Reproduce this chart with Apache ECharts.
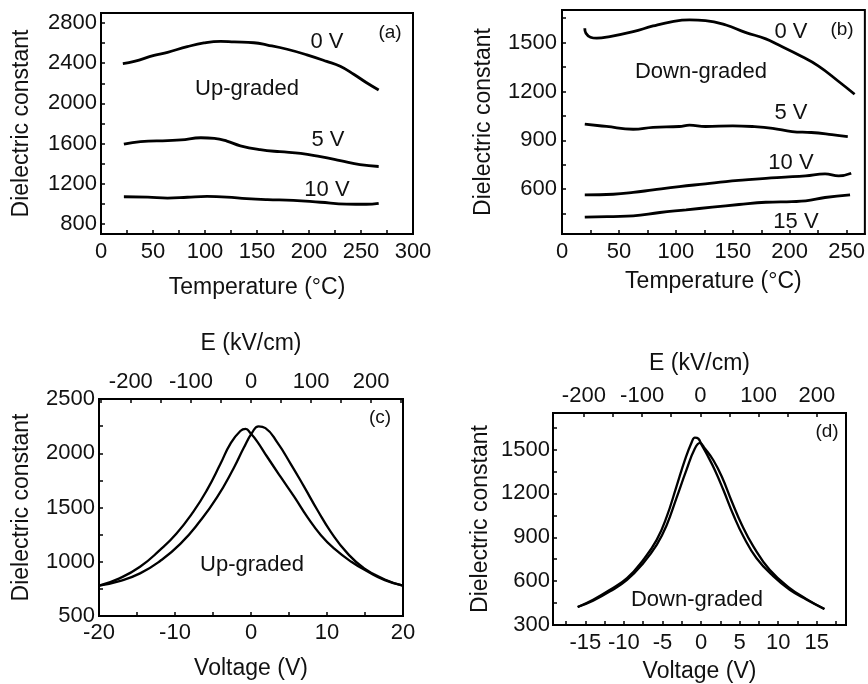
<!DOCTYPE html>
<html>
<head>
<meta charset="utf-8">
<script src="https://cdn.jsdelivr.net/npm/echarts@6/dist/echarts.min.js"></script>
<style>html,body{margin:0;padding:0;background:#fff;}#chart{width:868px;height:684px;}</style>
</head>
<body>
<div id="chart"></div>
<script>
// Panel (a): Up-graded, dielectric constant vs temperature
const aT0 = [21,32,51,64,83,99,115,128,147,160,179,198,217,230,243,255,267];
const aEps0 = [2395,2418,2478,2509,2565,2602,2618,2612,2604,2581,2539,2483,2418,2369,2290,2208,2133];
const aT5 = [22,38,64,77,96,109,121,134,153,172,192,211,230,249,267];
const aEps5 = [1594,1620,1630,1636,1658,1652,1625,1578,1540,1519,1503,1470,1431,1390,1372];
const aT10 = [22,45,64,83,102,121,140,160,185,211,236,255,267];
const aEps10 = [1071,1068,1058,1066,1074,1068,1052,1042,1035,1016,998,996,1006];
// Panel (b): Down-graded
const bT0 = [20,21,25,30.5,42,62.5,80,97,112,126,144,161,179,190,208,225,243,257];
const bEps0 = [1588,1557,1533,1527,1537,1567,1602,1629,1639,1635,1608,1563,1523,1486,1424,1357,1261,1183];
const bT5 = [20,39,62.5,80,103,112,126,150,167,185,202,219,237,251];
const bEps5 = [999,985,968,980,985,993,985,989,985,974,954,948,935,923];
const bT10 = [20,45,62.5,80,103,126,144,161,179,196,214,231,243,254];
const bEps10 = [565,569,580,596,616,633,647,657,667,674,682,694,682,698];
const bT15 = [20,45,62.5,86,109,132,155.5,179,202,214,231,253];
const bEps15 = [428,432,436,457,473,490,506,520,524,528,549,565];
// Panel (c): Up-graded, C-V butterfly
const cVL = [-20,-17.3,-14.6,-12.0,-9.8,-7.6,-5.8,-4.0,-2.7,-1.4,-0.7,-0.07,0.8,2.1,3.9,5.7,7.4,9.2,11.0,13.2,15.4,17.6,20];
const cEpsL = [779,847,954,1107,1261,1460,1660,1905,2089,2205,2224,2185,2110,1970,1782,1598,1414,1245,1118,1000,908,831,779];
const cVR = [-20,-17.3,-14.6,-12.0,-9.3,-6.7,-4.5,-2.3,-0.95,0.15,1.0,1.9,3.5,5.2,7.0,8.75,10.5,12.7,14.9,17.6,20];
const cEpsR = [779,822,893,1005,1165,1375,1590,1860,2050,2190,2248,2232,2095,1905,1690,1475,1276,1077,939,837,779];
// Panel (d): Down-graded, C-V butterfly
const dVL = [-16,-14,-11.8,-9.6,-7.5,-5.75,-4.45,-3.2,-2.1,-1.2,-0.8,-0.35,0.1,0.7,1.8,2.9,4.2,5.5,7.2,9.4,11.5,13.7,16];
const dEpsL = [423,473,541,620,745,882,1041,1245,1427,1552,1582,1575,1530,1473,1359,1223,1052,905,757,632,541,473,409];
const dVR = [-16,-14,-11.8,-9.6,-7.5,-5.75,-4.45,-3.2,-1.9,-0.8,-0.13,0.5,1.6,2.7,4.0,5.3,6.8,8.9,11.5,13.7,16];
const dEpsR = [423,466,530,609,723,848,984,1166,1359,1507,1545,1507,1427,1314,1143,984,836,677,552,477,409];

// Tick labels
const aXLabels = [0,50,100,150,200,250,300];
const aXTicks = [25,50,75,100,125,150,175,200,225,250,275];
const aYLabels = [800,1200,1600,2000,2400,2800];
const aYTicks = [800,1000,1200,1400,1600,1800,2000,2200,2400,2600,2800];
const bXLabels = [0,50,100,150,200,250];
const bXTicks = [25,50,75,100,125,150,175,200,225,250];
const bYLabels = [600,900,1200,1500];
const bYTicks = [450,600,750,900,1050,1200,1350,1500,1650];
const cXLabels = [-20,-10,0,10,20];
const cXTicks = [-15,-10,-5,0,5,10,15];
const cELabels = [-200,-100,0,100,200];
const cETicks = [-250,-200,-150,-100,-50,0,50,100,150,200,250];
const cYLabels = [500,1000,1500,2000,2500];
const cYTicks = [750,1000,1250,1500,1750,2000,2250];
const dXLabels = [-15,-10,-5,0,5,10,15];
const dXTicks = [-17.5,-15,-12.5,-10,-7.5,-5,-2.5,0,2.5,5,7.5,10,12.5,15,17.5];
const dELabels = [-200,-100,0,100,200];
const dETicks = [-200,-150,-100,-50,0,50,100,150,200];
const dYLabels = [300,600,900,1200,1500];
const dYTicks = [450,600,750,900,1050,1200,1350,1500,1650];

const FONT = '"Liberation Sans", Arial, sans-serif';
const INK = '#111';
const zip = (xs, ys) => xs.map((x, i) => [x, ys[i]]);

function axis(opts) {
  return Object.assign({
    type: 'value',
    axisLine: { show: true, onZero: false, lineStyle: { color: '#000', width: 2 } },
    splitLine: { show: false },
    nameLocation: 'middle',
    nameTextStyle: { color: INK, fontSize: 23, fontFamily: FONT },
  }, opts, {
    axisTick: { show: true, inside: true, length: 4, lineStyle: { color: '#000', width: 1.5 }, customValues: opts.ticks },
    axisLabel: { show: opts.labels !== undefined, color: INK, fontSize: 22, fontFamily: FONT, margin: opts.margin || 5,
      customValues: opts.labels, formatter: v => String(v) },
  });
}

function line(data, xi, yi, w, s) {
  return { type: 'line', data: data, xAxisIndex: xi, yAxisIndex: yi, showSymbol: false, symbol: 'none',
    smooth: s || 0.45, lineStyle: { color: '#000', width: w || 2.8 }, silent: true, animation: false };
}

function txt(s, x, y, size) {
  return { type: 'text', x: x, y: y, style: { text: s, fill: INK, font: (size || 22) + 'px ' + FONT, textAlign: 'center', textVerticalAlign: 'middle' } };
}

const chart = echarts.init(document.getElementById('chart'), null, { renderer: 'canvas' });
chart.setOption({
  animation: false,
  backgroundColor: '#fff',
  grid: [
    { left: 101, top: 13, width: 312, height: 221, show: true, borderColor: '#000', borderWidth: 2 },
    { left: 562, top: 10, width: 303, height: 224, show: true, borderColor: '#000', borderWidth: 2 },
    { left: 99, top: 399, width: 304, height: 217, show: true, borderColor: '#000', borderWidth: 2 },
    { left: 553, top: 413, width: 293, height: 212, show: true, borderColor: '#000', borderWidth: 2 },
  ],
  xAxis: [
    axis({ gridIndex: 0, min: 0, max: 300, labels: aXLabels, ticks: aXTicks, name: 'Temperature (°C)', nameGap: 42, margin: 7 }),
    axis({ gridIndex: 1, min: 0, max: 266, labels: bXLabels, ticks: bXTicks, name: 'Temperature (°C)', nameGap: 36, margin: 7 }),
    axis({ gridIndex: 2, min: -20, max: 20, labels: cXLabels, ticks: cXTicks, name: 'Voltage (V)', nameGap: 41, margin: 6 }),
    axis({ gridIndex: 2, position: 'top', min: -253, max: 253, labels: cELabels, ticks: cETicks, name: 'E (kV/cm)', nameGap: 44, margin: 6 }),
    axis({ gridIndex: 3, min: -19.2, max: 18.8, labels: dXLabels, ticks: dXTicks, name: 'Voltage (V)', nameGap: 35, margin: 7 }),
    axis({ gridIndex: 3, position: 'top', min: -253, max: 250, labels: dELabels, ticks: dETicks, name: 'E (kV/cm)', nameGap: 38, margin: 6 }),
  ],
  yAxis: [
    axis({ gridIndex: 0, min: 700, max: 2900, labels: aYLabels, ticks: aYTicks, name: 'Dielectric constant', nameGap: 68, margin: 4 }),
    axis({ gridIndex: 1, min: 325, max: 1700, labels: bYLabels, ticks: bYTicks, name: 'Dielectric constant', nameGap: 67, margin: 5 }),
    axis({ gridIndex: 2, min: 500, max: 2500, labels: cYLabels, ticks: cYTicks, name: 'Dielectric constant', nameGap: 66, margin: 4 }),
    axis({ gridIndex: 3, min: 300, max: 1750, labels: dYLabels, ticks: dYTicks, name: 'Dielectric constant', nameGap: 61, margin: 3 }),
  ],
  series: [
    line(zip(aT0, aEps0), 0, 0), line(zip(aT5, aEps5), 0, 0), line(zip(aT10, aEps10), 0, 0),
    line(zip(bT0, bEps0), 1, 1), line(zip(bT5, bEps5), 1, 1), line(zip(bT10, bEps10), 1, 1), line(zip(bT15, bEps15), 1, 1),
    line(zip(cVL, cEpsL), 2, 2, 2.3, 0.5), line(zip(cVR, cEpsR), 2, 2, 2.3, 0.5),
    line(zip(dVL, dEpsL), 4, 3, 2.3), line(zip(dVR, dEpsR), 4, 3, 2.3),
  ],
  graphic: [
    txt('0 V', 327, 42), txt('5 V', 328, 140), txt('10 V', 327, 190), txt('Up-graded', 247, 89), txt('(a)', 390, 33, 19),
    txt('0 V', 791, 32), txt('(b)', 842, 30, 19), txt('Down-graded', 701, 72), txt('5 V', 791, 113), txt('10 V', 791, 163), txt('15 V', 796, 222),
    txt('(c)', 380, 418, 19), txt('Up-graded', 252, 565),
    txt('(d)', 827, 432, 19), txt('Down-graded', 697, 600),
  ],
});
</script>
</body>
</html>
